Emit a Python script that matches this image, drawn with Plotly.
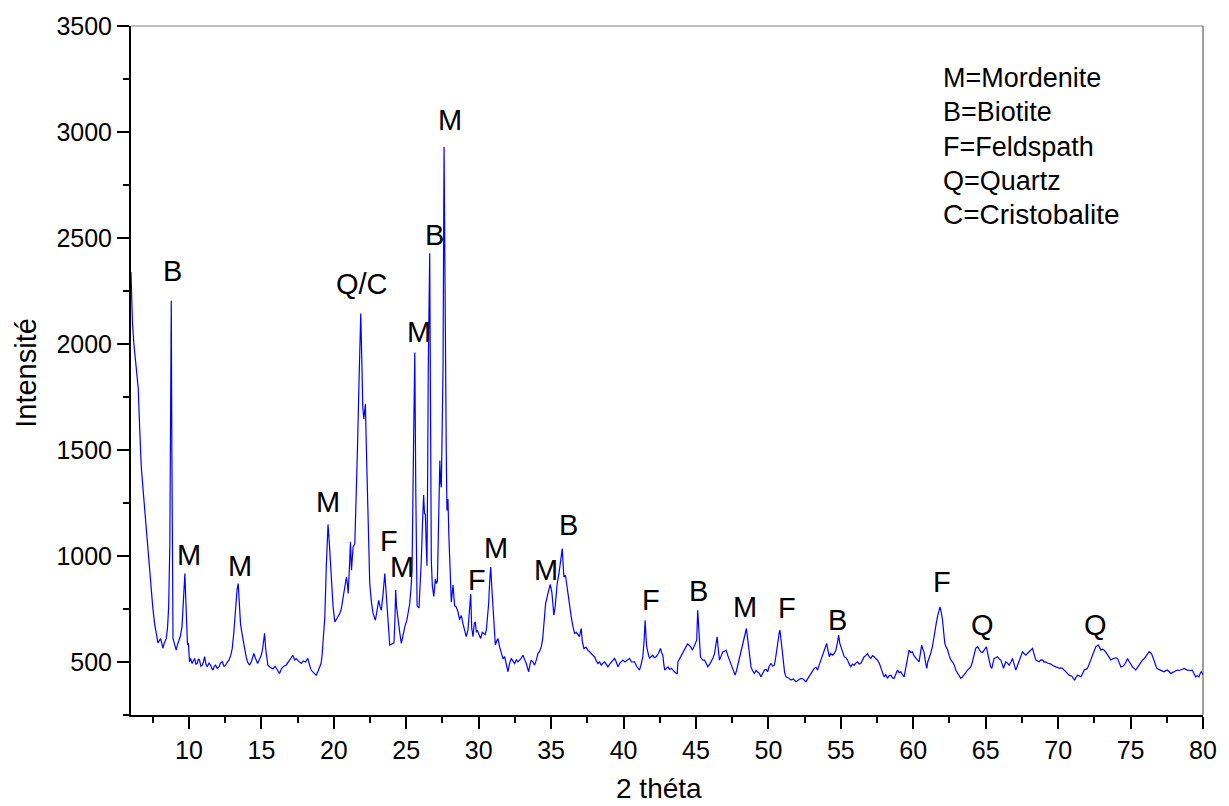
import plotly.graph_objects as go

# ---- XRD scan (2-theta in degrees, intensity in counts) ----
theta = [
    6.0, 6.1, 6.2, 6.35, 6.45, 6.5, 6.6, 6.71, 6.85, 7.0,
    7.1, 7.25, 7.4, 7.5, 7.63, 7.75, 7.86, 7.95, 8.04, 8.12,
    8.2, 8.3, 8.43, 8.52, 8.6, 8.68, 8.74, 8.78, 8.82, 8.86,
    8.9, 8.98, 9.05, 9.12, 9.2, 9.3, 9.4, 9.52, 9.6, 9.67,
    9.72, 9.78, 9.84, 9.9, 9.96, 10.04,
    10.11, 10.22, 10.3, 10.39, 10.48, 10.57, 10.65, 10.73, 10.82, 10.92,
    11.0, 11.08, 11.17, 11.27, 11.38, 11.5, 11.58, 11.66, 11.75, 11.84,
    11.95, 12.07, 12.18, 12.3, 12.42, 12.53, 12.65, 12.76, 12.88, 12.99,
    13.1, 13.22, 13.32, 13.4, 13.48, 13.56, 13.65, 13.75, 13.85, 13.95,
    14.05, 14.18, 14.3, 14.4, 14.48, 14.58, 14.66, 14.74, 14.85, 14.99,
    15.08, 15.15, 15.22, 15.3, 15.38, 15.45, 15.6, 15.8, 15.95, 16.1,
    16.25, 16.4, 16.55, 16.71, 16.85, 17.0, 17.17, 17.3, 17.4, 17.55,
    17.75, 17.9, 18.05, 18.2, 18.3, 18.43, 18.6, 18.78, 18.9, 19.0,
    19.12, 19.19, 19.28, 19.38, 19.48, 19.6, 19.7, 19.84, 19.95, 20.07,
    20.18, 20.3, 20.42, 20.52, 20.64, 20.76, 20.87, 20.95, 20.99, 21.08,
    21.15, 21.22, 21.33, 21.45, 21.55, 21.63, 21.75, 21.86, 21.94, 22.0,
    22.07, 22.18, 22.25, 22.32, 22.4, 22.48, 22.6, 22.71, 22.87, 22.98,
    23.1, 23.2, 23.28, 23.4, 23.52, 23.6, 23.7, 23.78, 23.86, 24.0,
    24.15, 24.22, 24.27, 24.33, 24.43, 24.55, 24.66, 24.78, 24.9, 25.05,
    25.24, 25.33, 25.4, 25.5, 25.59, 25.66, 25.75, 25.88, 25.96, 26.04,
    26.12, 26.2, 26.26, 26.32, 26.38, 26.43, 26.48, 26.52, 26.62, 26.67,
    26.73, 26.8, 26.9, 27.01, 27.08, 27.15, 27.24, 27.32, 27.37, 27.42,
    27.48, 27.54, 27.61, 27.66, 27.7, 27.76, 27.81, 27.88, 27.94, 28.0,
    28.11, 28.23, 28.34, 28.45, 28.57, 28.68, 28.8, 28.92, 29.03, 29.14,
    29.26, 29.35, 29.45, 29.52, 29.61, 29.69, 29.77, 29.84, 29.9, 30.02,
    30.14, 30.25, 30.37, 30.45, 30.53, 30.6, 30.69, 30.76, 30.83, 30.9,
    30.99, 31.07, 31.15, 31.25, 31.33, 31.45, 31.56, 31.68, 31.79, 31.9,
    32.02, 32.12, 32.25, 32.36, 32.48, 32.6, 32.71, 32.9, 33.06, 33.18,
    33.29, 33.38, 33.45, 33.55, 33.63, 33.75, 33.86, 33.98, 34.09, 34.2,
    34.32, 34.42, 34.5, 34.62, 34.78, 34.94, 35.05, 35.12, 35.19, 35.28,
    35.35, 35.42, 35.54, 35.65, 35.77, 35.83, 35.88, 35.99, 36.08, 36.16,
    36.28, 36.39, 36.5, 36.62, 36.75, 36.85, 36.95, 37.08, 37.15, 37.26,
    37.4, 37.54, 37.65, 37.77, 37.9, 38.0, 38.12, 38.23, 38.35, 38.46,
    38.58, 38.69, 38.8, 38.92, 39.05, 39.2, 39.38, 39.5, 39.61, 39.75,
    39.95, 40.1, 40.25, 40.41, 40.55, 40.76, 40.9, 41.1, 41.22, 41.33,
    41.42, 41.49, 41.55, 41.6, 41.7, 41.79, 41.9, 42.02, 42.12, 42.25,
    42.4, 42.55, 42.62, 42.71, 42.78, 42.84, 42.95, 43.07, 43.18, 43.3,
    43.5, 43.7, 43.76, 43.9, 44.05, 44.2, 44.3, 44.42, 44.53, 44.65,
    44.76, 44.88, 44.99, 45.05, 45.12, 45.18, 45.24, 45.31, 45.4, 45.47,
    45.59, 45.7, 45.82, 45.95, 46.05, 46.18, 46.28, 46.38, 46.46, 46.54,
    46.62, 46.75, 46.85, 46.95, 47.08, 47.2, 47.31, 47.42, 47.54, 47.62,
    47.7, 47.8, 47.89, 48.0, 48.11, 48.2, 48.3, 48.4, 48.48, 48.55,
    48.62, 48.7, 48.8, 48.9, 49.03, 49.15, 49.26, 49.38, 49.49, 49.6,
    49.72, 49.85, 49.95, 50.05, 50.18, 50.3, 50.41, 50.5, 50.59, 50.68,
    50.75, 50.8, 50.86, 50.91, 50.98, 51.05, 51.12, 51.21, 51.38, 51.56,
    51.72, 51.9, 52.05, 52.24, 52.4, 52.59, 52.75, 52.93, 53.05, 53.16,
    53.28, 53.39, 53.5, 53.62, 53.73, 53.85, 53.95, 54.02, 54.1, 54.2,
    54.3, 54.43, 54.55, 54.66, 54.76, 54.85, 54.92, 55.0, 55.1, 55.23,
    55.35, 55.46, 55.58, 55.69, 55.8, 55.92, 56.03, 56.15, 56.26, 56.38,
    56.5, 56.61, 56.72, 56.84, 56.95, 57.07, 57.18, 57.3, 57.42, 57.53,
    57.65, 57.76, 57.88, 57.99, 58.1, 58.22, 58.33, 58.45, 58.56, 58.68,
    58.8, 58.91, 59.02, 59.14, 59.25, 59.37, 59.45, 59.55, 59.63, 59.71,
    59.82, 59.94, 60.05, 60.17, 60.28, 60.4, 60.5, 60.58, 60.66, 60.74,
    60.84, 60.93, 61.0, 61.09, 61.2, 61.32, 61.4, 61.48, 61.58, 61.67,
    61.76, 61.84, 61.93, 62.02, 62.1, 62.18, 62.27, 62.36, 62.48, 62.6,
    62.72, 62.83, 62.95, 63.06, 63.17, 63.28, 63.4, 63.51, 63.62, 63.74,
    63.86, 63.97, 64.06, 64.15, 64.23, 64.31, 64.43, 64.55, 64.66, 64.78,
    64.89, 64.97, 65.05, 65.14, 65.24, 65.33, 65.42, 65.5, 65.58, 65.7,
    65.81, 65.92, 66.04, 66.14, 66.23, 66.3, 66.39, 66.5, 66.62, 66.74,
    66.85, 66.96, 67.08, 67.2, 67.31, 67.42, 67.54, 67.65, 67.77, 67.88,
    68.0, 68.12, 68.23, 68.35, 68.46, 68.58, 68.69, 68.8, 68.92, 69.03,
    69.15, 69.26, 69.38, 69.5, 69.61, 69.72, 69.84, 69.95, 70.07, 70.18,
    70.3, 70.42, 70.53, 70.65, 70.76, 70.88, 70.99, 71.07, 71.15, 71.25,
    71.34, 71.45, 71.57, 71.68, 71.8, 71.91, 72.02, 72.14, 72.25, 72.35,
    72.44, 72.52, 72.6, 72.68, 72.76, 72.85, 72.95, 73.06, 73.18, 73.3,
    73.41, 73.52, 73.64, 73.75, 73.87, 73.98, 74.1, 74.22, 74.33, 74.45,
    74.56, 74.68, 74.79, 74.88, 74.97, 75.05, 75.13, 75.25, 75.36, 75.48,
    75.59, 75.7, 75.82, 75.93, 76.05, 76.16, 76.28, 76.36, 76.44, 76.53,
    76.62, 76.72, 76.81, 76.95, 77.08, 77.2, 77.31, 77.42, 77.54, 77.65,
    77.77, 77.88, 78.0, 78.12, 78.23, 78.35, 78.46, 78.58, 78.69, 78.8,
    78.92, 79.1, 79.26, 79.38, 79.49, 79.6, 79.72, 79.8, 79.88, 80.0,
]

intensity = [
    2340, 2100, 2000, 1900, 1815, 1790, 1600, 1420, 1300, 1170,
    1100, 980, 840, 760, 680, 620, 590, 600, 610, 590,
    565, 590, 610, 660, 760, 1050, 1800, 2204, 1500, 800,
    610, 590, 570, 556, 580, 600, 620, 666, 760, 880,
    917, 800, 640, 580, 590, 501,
    517, 493, 505, 517, 490, 493, 515, 509, 480, 485,
    500, 525, 490, 477, 495, 485, 470, 462, 480, 485,
    470, 477, 495, 501, 480, 485, 500, 509, 530, 564,
    640, 760, 840, 870, 760, 680, 640, 600, 545, 524,
    500, 485, 500, 520, 540, 520, 500, 493, 510, 532,
    560, 610, 635, 560, 500, 485, 475, 467, 480, 460,
    446, 470, 480, 485, 500, 515, 532, 510, 516, 505,
    493, 505, 500, 517, 490, 462, 450, 438, 455, 470,
    493, 532, 600, 713, 950, 1149, 1050, 870, 760, 689,
    700, 713, 730, 752, 800, 854, 901, 860, 823, 950,
    1066, 933, 1042, 1058, 1250, 1498, 1850, 2144, 1900, 1700,
    1647, 1717, 1500, 1341, 1050, 870, 780, 729, 697, 740,
    791, 760, 744, 820, 917, 840, 744, 640, 580, 585,
    590, 700, 839, 760, 697, 640, 588, 630, 666, 700,
    776, 850, 933, 1500, 1960, 1300, 765, 755, 860, 981,
    1150, 1288, 1200, 1197, 1050, 954, 1400, 1883, 2428, 1800,
    981, 860, 809, 891, 870, 882, 1150, 1450, 1350, 1323,
    1600, 1884, 2929, 2300, 1884, 1500, 1215, 1269, 1100, 945,
    782, 863, 765, 760, 737, 700, 719, 680, 647, 620,
    650, 720, 820, 660, 619, 680, 689, 640, 650, 630,
    611, 640, 634, 630, 650, 700, 776, 880, 948, 860,
    760, 640, 580, 600, 611, 570, 540, 515, 525, 490,
    454, 490, 517, 505, 493, 510, 501, 515, 532, 510,
    493, 470, 454, 490, 509, 500, 485, 510, 540, 550,
    571, 610, 666, 776, 823, 866, 830, 780, 721, 760,
    820, 870, 917, 964, 1035, 960, 901, 909, 860, 823,
    760, 713, 670, 635, 640, 627, 620, 658, 600, 564,
    570, 556, 550, 540, 530, 525, 505, 493, 500, 485,
    495, 501, 490, 477, 490, 505, 517, 500, 477, 495,
    509, 500, 510, 517, 500, 501, 480, 462, 490, 525,
    600, 697, 620, 572, 540, 517, 525, 532, 520, 525,
    540, 564, 545, 532, 490, 462, 470, 477, 465, 470,
    455, 443, 501, 520, 540, 560, 571, 585, 579, 570,
    556, 575, 587, 603, 744, 650, 603, 524, 515, 509,
    509, 493, 477, 490, 501, 520, 540, 580, 619, 560,
    509, 530, 548, 550, 556, 530, 509, 490, 470, 450,
    438, 460, 485, 520, 556, 580, 603, 630, 658, 620,
    572, 520, 477, 460, 446, 460, 454, 445, 430, 450,
    462, 465, 454, 480, 493, 480, 485, 520, 571, 603,
    640, 650, 610, 572, 520, 477, 450, 430, 425, 415,
    420, 407, 415, 423, 420, 407, 425, 446, 460, 470,
    475, 462, 485, 509, 530, 556, 575, 587, 560, 525,
    540, 532, 540, 556, 590, 627, 590, 572, 560, 525,
    520, 509, 490, 477, 490, 485, 495, 501, 490, 493,
    510, 525, 530, 540, 525, 517, 530, 525, 515, 509,
    495, 477, 450, 430, 440, 423, 435, 438, 425, 423,
    440, 462, 450, 454, 440, 430, 460, 493, 530, 556,
    545, 548, 530, 517, 510, 501, 540, 580, 560, 548,
    500, 470, 500, 517, 540, 572, 600, 635, 680, 713,
    740, 760, 735, 697, 640, 587, 570, 560, 530, 509,
    500, 485, 460, 446, 430, 423, 430, 438, 450, 462,
    470, 477, 495, 517, 545, 564, 572, 560, 548, 545,
    556, 565, 572, 540, 509, 480, 470, 495, 517, 520,
    525, 515, 509, 490, 470, 485, 501, 495, 485, 500,
    517, 490, 462, 485, 509, 530, 548, 540, 532, 540,
    548, 555, 564, 535, 509, 505, 501, 510, 509, 500,
    501, 495, 493, 490, 485, 480, 477, 475, 470, 472,
    470, 462, 454, 445, 438, 435, 430, 420, 415, 430,
    438, 435, 430, 445, 462, 465, 470, 490, 509, 530,
    548, 560, 572, 575, 580, 570, 556, 560, 556, 545,
    532, 520, 509, 515, 517, 520, 517, 500, 477, 480,
    485, 500, 517, 505, 493, 485, 477, 470, 462, 475,
    485, 500, 509, 515, 525, 535, 548, 545, 540, 525,
    509, 490, 470, 465, 462, 458, 454, 458, 462, 455,
    446, 450, 454, 458, 462, 460, 462, 466, 470, 465,
    462, 460, 462, 445, 430, 435, 430, 445, 454, 440,
]

assert len(theta) == len(intensity), (len(theta), len(intensity))

# ---- phase labels placed above the peaks ----
label_text = ["B", "M", "M", "M", "Q/C", "F", "M", "M", "B", "M", "F", "M",
              "M", "B", "F", "B", "M", "F", "B", "F", "Q", "Q"]
label_x = [8.85, 9.97, 13.54, 19.6, 21.97, 23.83, 24.72, 25.88, 26.92, 28.02, 29.9, 31.2,
           34.65, 36.17, 41.9, 45.2, 48.38, 51.27, 54.79, 61.96, 64.79, 72.58]
label_y = [2345, 1003, 951, 1257, 2284, 1069, 947, 2058, 2515, 3056, 886, 1036,
           933, 1145, 791, 834, 758, 754, 697, 876, 674, 674]

key_lines = ["M=Mordenite", "B=Biotite", "F=Feldspath", "Q=Quartz", "C=Cristobalite"]

x_title = "2 théta"
y_title = "Intensité"

FONT = "Liberation Sans, Arial, sans-serif"

fig = go.Figure()
fig.add_trace(go.Scatter(
    x=theta, y=intensity, mode="lines",
    line=dict(color="#0000ff", width=1.2),
    showlegend=False, hoverinfo="skip",
))

for t, xv, yv in zip(label_text, label_x, label_y):
    fig.add_annotation(x=xv, y=yv, text=t, showarrow=False,
                       xanchor="center", yanchor="middle",
                       font=dict(family=FONT, size=29, color="black"))

key_y = [0.9246, 0.8754, 0.8246, 0.7754, 0.726]
for i, (txt, ky) in enumerate(zip(key_lines, key_y)):
    fig.add_annotation(x=0.756, y=ky, xref="paper", yref="paper", text=txt,
                       showarrow=False, xanchor="left", yanchor="middle",
                       font=dict(family=FONT, size=28 if i == 4 else 27, color="black"))

fig.add_annotation(x=0.4926, y=-0.107, xref="paper", yref="paper", text=x_title,
                   showarrow=False, xanchor="center", yanchor="middle",
                   font=dict(family=FONT, size=28, color="black"))
fig.add_annotation(x=-0.0987, y=0.497, xref="paper", yref="paper", text=y_title,
                   showarrow=False, xanchor="center", yanchor="middle", textangle=-90,
                   font=dict(family=FONT, size=29, color="black"))

# thin grey top and right frame
fig.add_shape(type="line", xref="paper", yref="paper", x0=0, x1=1, y0=1, y1=1,
              line=dict(color="#808080", width=1))
fig.add_shape(type="line", xref="paper", yref="paper", x0=1, x1=1, y0=0, y1=1,
              line=dict(color="#404040", width=1))

axis_common = dict(
    showgrid=False, zeroline=False, showline=True, linecolor="black", linewidth=2,
    ticks="outside", ticklen=12, tickwidth=2, tickcolor="black",
    tickfont=dict(family=FONT, size=25, color="black"),
)

fig.update_xaxes(range=[6, 80], tick0=0, dtick=5,
                 minor=dict(ticks="outside", ticklen=6, tickwidth=2, tickcolor="black", dtick=2.5, tick0=0),
                 **axis_common)
fig.update_yaxes(range=[250, 3500], tick0=0, dtick=500, tickformat="d",
                 minor=dict(ticks="outside", ticklen=6, tickwidth=2, tickcolor="black", dtick=250, tick0=0),
                 **axis_common)

fig.update_layout(
    width=1229, height=806,
    margin=dict(l=131, r=24, t=25, b=91),
    paper_bgcolor="white", plot_bgcolor="white",
    font=dict(family=FONT, color="black"),
)

fig.write_html("out.html", config={"displayModeBar": False},
               post_script="document.body.style.margin='0';document.body.style.overflow='hidden';")
